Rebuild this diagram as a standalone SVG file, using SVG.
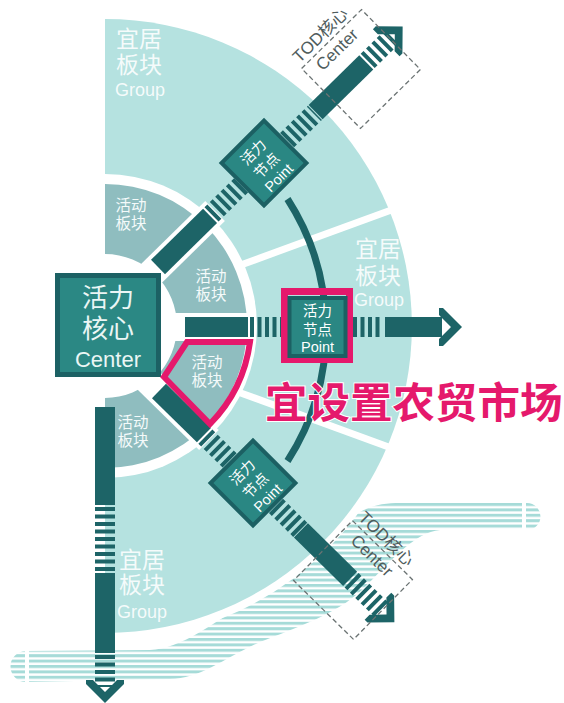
<svg xmlns="http://www.w3.org/2000/svg" width="564" height="703" viewBox="0 0 564 703">
<defs>
<style>
.dk{fill:#1d6467}
.st{stroke:#1d6467;stroke-width:20;stroke-dasharray:4 3.5;fill:none}
.gap{stroke:#fff;stroke-width:28}
.node{fill:#2a8783;stroke:#1c6063;stroke-width:4}
.nt{fill:#fff;font-family:"Liberation Sans","Noto Sans CJK SC",sans-serif;font-size:14.5px;text-anchor:middle}
.sec{fill:#f4fafa;font-family:"Liberation Sans","Noto Sans CJK SC",sans-serif;font-size:15.5px;text-anchor:middle}
.grp{fill:#fff;fill-opacity:.88;font-family:"Liberation Sans","Noto Sans CJK SC",sans-serif}
.tod{fill:none;stroke:#6b7373;stroke-width:1.3;stroke-dasharray:5 3}
.tt{fill:#4f5c5c;font-family:"Liberation Sans","Noto Sans CJK SC",sans-serif;font-size:17px}
.ct{fill:#eaf6f5;font-family:"Liberation Sans","Noto Sans CJK SC",sans-serif;text-anchor:middle}
</style>
<pattern id="riv" patternUnits="userSpaceOnUse" x="0" y="503" width="20" height="5.4"><rect width="20" height="3" fill="#a6dbd8"/></pattern>
<polygon id="chev" points="0,0 -19,-19 -23,-19 -23,-12 -11,0 -23,12 -23,19 -19,19" fill="#1d6467"/>
</defs>

<g id="background">
<path d="M26,651 L150,650 C190,648 240,605 300,560 L355,515 C370,505 385,503 400,503 L527,503 A13.5,13.5 0 0 1 527,530 L440,530 C415,532 392,560 362,590 C335,615 295,628 260,642 C225,658 200,679 170,679 L26,682 A15.5,15.5 0 0 1 26,651 Z" fill="url(#riv)"/>
<rect x="25" y="644" width="4" height="44" fill="#fff"/>
<rect x="522" y="498" width="4" height="38" fill="#fff"/>
<path d="M105,19 A307,307 0 0 1 105,633 Z" fill="#b5e2e0" stroke="#fff" stroke-width="16" paint-order="stroke"/>
<line x1="238" y1="266" x2="405" y2="205" stroke="#fff" stroke-width="7"/>
<line x1="238" y1="392" x2="405" y2="453" stroke="#fff" stroke-width="7"/>
<path d="M105,174 A152,152 0 0 1 105,478 Z" fill="#fff"/>
<path d="M105,184 A142,142 0 0 1 105,468 L105,398 A72,72 0 0 0 105,254 Z" fill="#8fbdbf"/>
<line class="gap" x1="150" y1="327" x2="255" y2="327"/>
<g transform="translate(158,267) rotate(-44.5)"><line class="gap" x1="-40" y1="0" x2="80" y2="0"/></g>
<g transform="translate(159,391) rotate(44.5)"><line class="gap" x1="-40" y1="0" x2="70" y2="0"/></g>
</g>

<g id="connectors">
<path d="M287.5,199 A242,242 0 0 1 287.5,461" fill="none" stroke="#1d6467" stroke-width="7"/>
<g id="spoke-east" transform="translate(185,327)">
<rect class="dk" x="0" y="-10" width="63" height="20"/>
<line class="st" x1="65" y1="0" x2="98" y2="0"/>
<line class="st" x1="168" y1="0" x2="198" y2="0"/>
<rect class="dk" x="200" y="-10" width="57" height="20"/>
<use href="#chev" x="277"/>
</g>
<g id="spoke-ne" transform="translate(158,267) rotate(-44.5)">
<rect class="dk" x="0" y="-10" width="73" height="20"/>
<line class="st" x1="75" y1="0" x2="118" y2="0"/>
<line class="st" x1="181" y1="0" x2="220" y2="0"/>
<rect class="dk" x="221" y="-10" width="71" height="20"/>
<line class="st" x1="294" y1="0" x2="330" y2="0"/>
<use href="#chev" x="343"/>
</g>
<g id="spoke-se" transform="translate(159,391) rotate(44.5)">
<rect class="dk" x="0" y="-10" width="63" height="20"/>
<line class="st" x1="65" y1="0" x2="100" y2="0"/>
<line class="st" x1="164" y1="0" x2="198" y2="0"/>
<rect class="dk" x="199" y="-10" width="69" height="20"/>
<line class="st" x1="270" y1="0" x2="312" y2="0"/>
<use href="#chev" x="330"/>
</g>
<g id="spoke-s" transform="translate(105,407) rotate(90)">
<rect class="dk" x="0" y="-10" width="98" height="20"/>
<line class="st" x1="100" y1="0" x2="166" y2="0"/>
<rect class="dk" x="166" y="-10" width="80" height="20"/>
<line class="st" x1="248" y1="0" x2="280" y2="0"/>
<use href="#chev" x="296"/>
</g>
</g>

<g id="group-top">
<text class="grp" x="116" y="47" font-size="23">宜居</text>
<text class="grp" x="116" y="73" font-size="23">板块</text>
<text class="grp" x="115" y="96" font-size="18">Group</text>
</g>
<g id="group-east">
<text class="grp" x="355" y="257" font-size="23">宜居</text>
<text class="grp" x="355" y="284" font-size="23">板块</text>
<text class="grp" x="354" y="306" font-size="18">Group</text>
</g>
<g id="group-bottom">
<text class="grp" x="119" y="568" font-size="23">宜居</text>
<text class="grp" x="119" y="593" font-size="23">板块</text>
<text class="grp" x="117" y="618" font-size="18">Group</text>
</g>

<g id="activity-1"><text class="sec" x="131" y="211">活动</text><text class="sec" x="131" y="229">板块</text></g>
<g id="activity-2"><text class="sec" x="211" y="282">活动</text><text class="sec" x="211" y="300">板块</text></g>
<g id="activity-3"><text class="sec" x="207" y="368">活动</text><text class="sec" x="207" y="386">板块</text></g>
<g id="activity-4"><text class="sec" x="133" y="428">活动</text><text class="sec" x="133" y="446">板块</text></g>

<g id="center">
<rect x="57.5" y="275.5" width="101" height="99" fill="#2b8884" stroke="#1c6164" stroke-width="5"/>
<text class="ct" x="108" y="307" font-size="26">活力</text>
<text class="ct" x="108" y="338" font-size="26">核心</text>
<text class="ct" x="108" y="367" font-size="22">Center</text>
</g>

<g id="point-ne" transform="translate(264,163) rotate(-45)">
<rect class="node" x="-30" y="-30" width="60" height="60"/>
<text class="nt" x="0" y="-10">活力</text>
<text class="nt" x="0" y="9">节点</text>
<text class="nt" x="0" y="26">Point</text>
</g>
<g id="point-e" transform="translate(317.5,326)">
<rect x="-33" y="-34.5" width="65" height="68" fill="none" stroke="#e5196c" stroke-width="7"/>
<rect class="node" x="-28" y="-28" width="56" height="58"/>
<text class="nt" x="0" y="-10">活力</text>
<text class="nt" x="0" y="9">节点</text>
<text class="nt" x="0" y="26">Point</text>
</g>
<g id="point-se" transform="translate(253,483) rotate(-45)">
<rect class="node" x="-30" y="-30" width="60" height="60"/>
<text class="nt" x="0" y="-10">活力</text>
<text class="nt" x="0" y="9">节点</text>
<text class="nt" x="0" y="26">Point</text>
</g>

<g id="tod-ne" transform="translate(361,69) rotate(-44.5)">
<rect class="tod" x="-42" y="-42" width="84" height="84"/>
<text class="tt" x="-40" y="-47">TOD核心</text>
<text class="tt" x="-29" y="-25">Center</text>
</g>
<g id="tod-se" transform="translate(353,580) rotate(44.5)">
<rect class="tod" x="-42" y="-42" width="84" height="84"/>
<text class="tt" x="-40" y="-47">TOD核心</text>
<text class="tt" x="-29" y="-25">Center</text>
</g>

<g id="highlight">
<path d="M187,342 L250,342 A145,145 0 0 1 210,424 L164,377 Z" fill="none" stroke="#e5196c" stroke-width="6" stroke-linejoin="miter"/>
<text x="265" y="418" font-family="'Noto Sans CJK SC',sans-serif" font-size="42.5" font-weight="bold" fill="#e5196c" stroke="#fff" stroke-width="2" paint-order="stroke">宜设置农贸市场</text>
</g>
</svg>
